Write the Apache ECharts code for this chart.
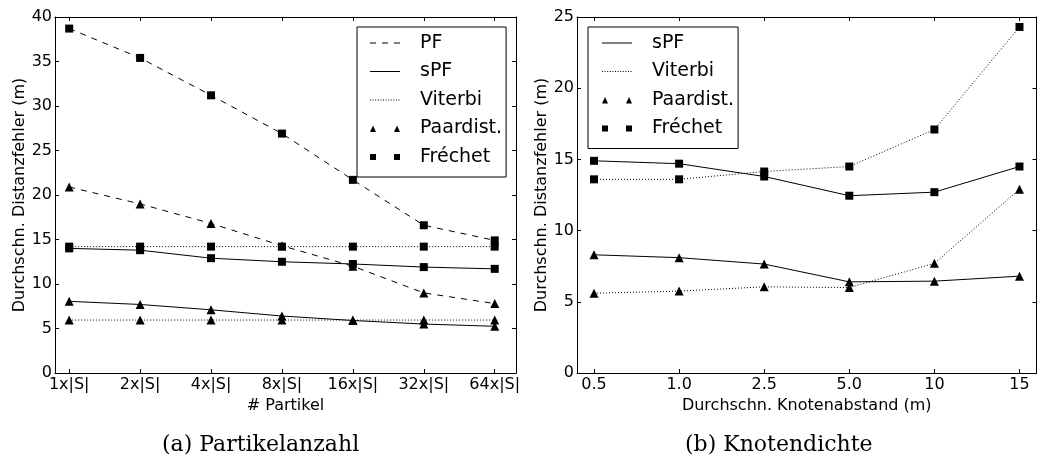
<!DOCTYPE html>
<html>
<head>
<meta charset="utf-8">
<script src="https://cdn.jsdelivr.net/npm/echarts@6/dist/echarts.min.js"></script>
<style>html,body{margin:0;padding:0;background:#fff}#c{width:1038px;height:464px}</style>
</head>
<body>
<div id="c"></div>
<script>
// ---- data: panel (a) Partikelanzahl ----
const leftCats = ['1x|S|', '2x|S|', '4x|S|', '8x|S|', '16x|S|', '32x|S|', '64x|S|'];
const pfFrechet = [38.7, 35.4, 31.2, 26.9, 21.7, 16.6, 14.9];
const pfPaardist = [20.9, 19.0, 16.8, 14.3, 12.0, 9.0, 7.8];
const spfFrechetA = [14.0, 13.8, 12.9, 12.5, 12.25, 11.9, 11.7];
const spfPaardistA = [8.05, 7.7, 7.1, 6.4, 5.9, 5.5, 5.25];
const viterbiFrechetA = [14.2, 14.2, 14.2, 14.2, 14.2, 14.2, 14.2];
const viterbiPaardistA = [5.95, 5.95, 5.95, 5.95, 5.95, 5.95, 5.95];

// ---- data: panel (b) Knotendichte ----
const rightCats = ['0.5', '1.0', '2.5', '5.0', '10', '15'];
const spfFrechetB = [14.9, 14.7, 13.8, 12.45, 12.7, 14.5];
const viterbiFrechetB = [13.6, 13.6, 14.15, 14.5, 17.1, 24.3];
const spfPaardistB = [8.3, 8.1, 7.65, 6.4, 6.45, 6.8];
const viterbiPaardistB = [5.6, 5.75, 6.05, 6.0, 7.7, 12.9];

const yNameText = 'Durchschn. Distanzfehler (m)';
const FONT = 'DejaVu Sans';

function pts(arr) { return arr.map((v, i) => [i, v]); }

// legend icon paths (box 45 x 10, content drawn in 0..30)
const IW = 45, IH = 10;
function rect(x0, y0, x1, y1) { return `M${x0},${y0} L${x1},${y0} L${x1},${y1} L${x0},${y1} Z `; }
const anchors = `M0,0 Z M${IW},${IH} Z`;
function icon(kind) {
  let p = '';
  if (kind === 'solid') p = rect(0, 4.5, 30, 5.6);
  else if (kind === 'dashed') { for (let x = 0; x < 30; x += 12) p += rect(x, 4.5, x + 6, 5.6); }
  else if (kind === 'dotted') { for (let x = 0; x <= 29; x += 2.6) p += rect(x, 4.6, x + 1, 5.6); }
  else if (kind === 'tri') p = 'M0,8.5 L3,2 L6,8.5 Z M24,8.5 L27,2 L30,8.5 Z ';
  else if (kind === 'sq') p = rect(0, 2, 6, 8) + rect(24, 2, 30, 8);
  return 'path://' + p + anchors;
}

function xAxisDef(grid, cats, max, top, name) {
  const ticks = cats.map((c, i) => i);
  return {
    gridIndex: grid, type: 'value', min: -0.2, max: max, position: top ? 'top' : 'bottom',
    axisLine: { show: true, onZero: false, lineStyle: { color: '#000', width: 1 } },
    axisTick: { show: true, inside: true, length: 4, customValues: ticks, lineStyle: { color: '#000' } },
    axisLabel: top ? { show: false } : {
      show: true, customValues: ticks, formatter: v => cats[Math.round(v)],
      fontSize: 16, fontFamily: FONT, color: '#000', margin: 4
    },
    splitLine: { show: false },
    name: top ? '' : name, nameLocation: 'middle', nameGap: 25,
    nameTextStyle: { fontSize: 16, fontFamily: FONT, color: '#000' }
  };
}
function yAxisDef(grid, max, right) {
  return {
    gridIndex: grid, type: 'value', min: 0, max: max, interval: 5, position: right ? 'right' : 'left',
    axisLine: { show: true, onZero: false, lineStyle: { color: '#000', width: 1 } },
    axisTick: { show: true, inside: true, length: 4, lineStyle: { color: '#000' } },
    axisLabel: right ? { show: false } : { fontSize: 16, fontFamily: FONT, color: '#000', margin: 3 },
    splitLine: { show: false },
    name: right ? '' : yNameText, nameLocation: 'middle', nameGap: 23, nameRotate: 90,
    nameTextStyle: { fontSize: 16, fontFamily: FONT, color: '#000' }
  };
}

function line(name, xi, yi, data, type, symbol) {
  return {
    name: name, type: 'line', xAxisIndex: xi, yAxisIndex: yi, data: pts(data),
    symbol: symbol, symbolSize: symbol === 'triangle' ? 9 : 8, showSymbol: true,
    lineStyle: { color: '#000', width: 1, type: type },
    itemStyle: { color: '#000' }, silent: true, z: 3
  };
}
function dummy(name, xi, yi) {
  return { name: name, type: 'line', xAxisIndex: xi, yAxisIndex: yi, data: [], symbol: 'none',
    itemStyle: { color: '#000' }, lineStyle: { color: '#000' } };
}

const DASH = [6, 6], DOT = [1, 2];

const legendCommon = {
  orient: 'vertical', itemWidth: IW, itemHeight: IH, itemGap: 8.5, selectedMode: false,
  backgroundColor: '#fff', borderColor: '#000', borderWidth: 1, borderRadius: 0,
  itemStyle: { color: '#000', borderWidth: 0 },
  textStyle: { fontSize: 19, fontFamily: FONT, color: '#000', lineHeight: 20 }
};

const option = {
  animation: false,
  backgroundColor: '#fff',
  grid: [
    { left: 55, right: 522, top: 17, bottom: 91 },
    { left: 577, right: 1.5, top: 17, bottom: 91 }
  ],
  xAxis: [
    xAxisDef(0, leftCats, 6.3, false, '# Partikel'),
    xAxisDef(0, leftCats, 6.3, true, ''),
    xAxisDef(1, rightCats, 5.2, false, 'Durchschn. Knotenabstand (m)'),
    xAxisDef(1, rightCats, 5.2, true, '')
  ],
  yAxis: [
    yAxisDef(0, 40, false), yAxisDef(0, 40, true),
    yAxisDef(1, 25, false), yAxisDef(1, 25, true)
  ],
  legend: [
    Object.assign({}, legendCommon, {
      left: 357, top: 27, padding: [6, 4, 10, 13],
      data: [
        { name: 'PF', icon: icon('dashed') },
        { name: 'sPF', icon: icon('solid') },
        { name: 'Viterbi', icon: icon('dotted') },
        { name: 'Paardist.', icon: icon('tri') },
        { name: 'Fréchet', icon: icon('sq') }
      ]
    }),
    Object.assign({}, legendCommon, {
      left: 588, top: 27, padding: [6, 4, 10, 14],
      data: [
        { name: 'sPF', icon: icon('solid') },
        { name: 'Viterbi', icon: icon('dotted') },
        { name: 'Paardist.', icon: icon('tri') },
        { name: 'Fréchet', icon: icon('sq') }
      ]
    })
  ],
  graphic: [
    { type: 'text', left: 'center', x: 0, top: 434, style: { text: '(a) Partikelanzahl', font: '22px "DejaVu Serif"', fill: '#000' }, left: 162 },
    { type: 'text', left: 685, top: 434, style: { text: '(b) Knotendichte', font: '22px "DejaVu Serif"', fill: '#000' } }
  ],
  series: [
    dummy('PF', 0, 0), dummy('sPF', 0, 0), dummy('Viterbi', 0, 0), dummy('Paardist.', 0, 0), dummy('Fréchet', 0, 0),
    line('Viterbi Fréchet (a)', 0, 0, viterbiFrechetA, DOT, 'rect'),
    line('Viterbi Paardist. (a)', 0, 0, viterbiPaardistA, DOT, 'triangle'),
    line('sPF Fréchet (a)', 0, 0, spfFrechetA, 'solid', 'rect'),
    line('sPF Paardist. (a)', 0, 0, spfPaardistA, 'solid', 'triangle'),
    line('PF Fréchet (a)', 0, 0, pfFrechet, DASH, 'rect'),
    line('PF Paardist. (a)', 0, 0, pfPaardist, DASH, 'triangle'),
    line('sPF Fréchet (b)', 2, 2, spfFrechetB, 'solid', 'rect'),
    line('sPF Paardist. (b)', 2, 2, spfPaardistB, 'solid', 'triangle'),
    line('Viterbi Fréchet (b)', 2, 2, viterbiFrechetB, DOT, 'rect'),
    line('Viterbi Paardist. (b)', 2, 2, viterbiPaardistB, DOT, 'triangle')
  ]
};

const chart = echarts.init(document.getElementById('c'), null, { renderer: 'canvas' });
chart.setOption(option);
</script>
</body>
</html>
